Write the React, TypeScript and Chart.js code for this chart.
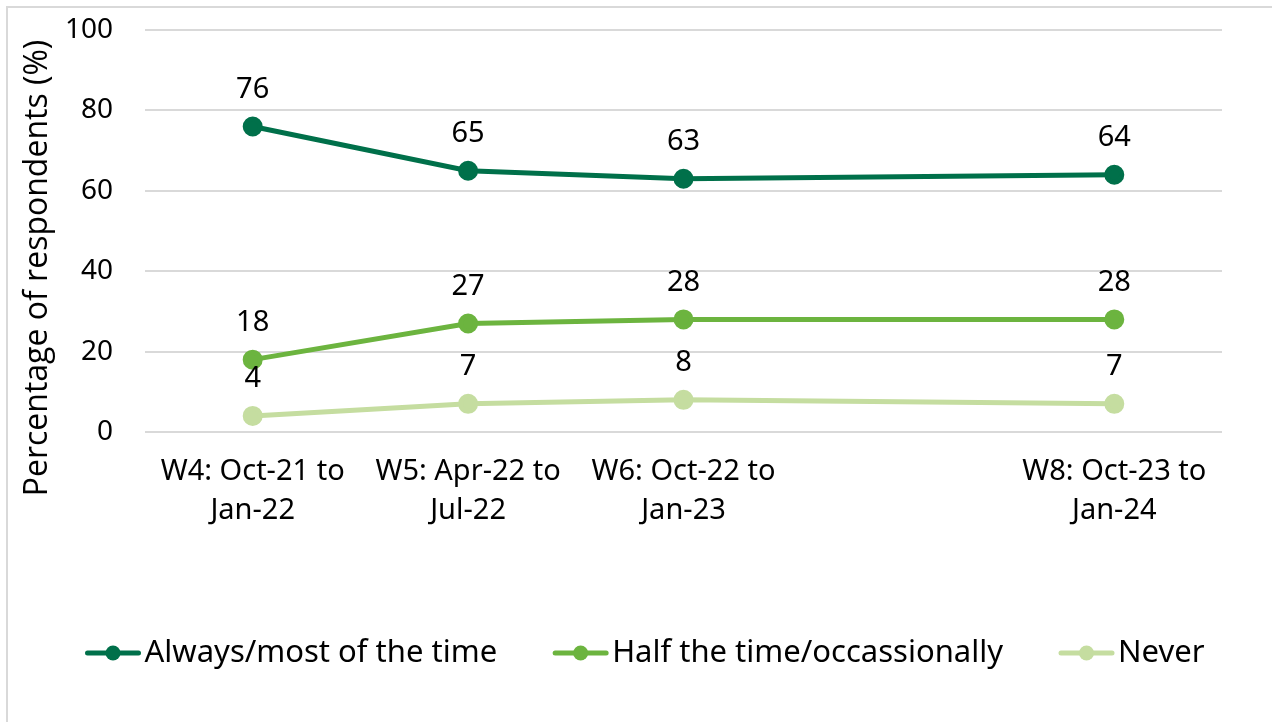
import React, { useEffect, useRef } from "react";
import { Chart, registerables } from "chart.js";

Chart.register(...registerables);

// Survey waves (W7 was not run, so its slot stays empty on the axis)
const waveLabels: string[][] = [
  ["W4: Oct-21 to", "Jan-22"],
  ["W5: Apr-22 to", "Jul-22"],
  ["W6: Oct-22 to", "Jan-23"],
  [""],
  ["W8: Oct-23 to", "Jan-24"],
];

const alwaysMost: (number | null)[] = [76, 65, 63, null, 64];
const halfOccasionally: (number | null)[] = [18, 27, 28, null, 28];
const never: (number | null)[] = [4, 7, 8, null, 7];

const seriesNames = ["Always/most of the time", "Half the time/occassionally", "Never"];
const seriesColors = ["#00704A", "#6CB43F", "#C5DDA0"];

const yTicks = [0, 20, 40, 60, 80, 100];
const yTitle = "Percentage of respondents (%)";

const FONT = "'Noto Sans', 'DejaVu Sans', sans-serif";
const TITLE_FONT = "'Open Sans', 'Noto Sans', sans-serif";

// Draws each point's value above it
const valueLabels = {
  id: "valueLabels",
  afterDatasetsDraw(chart: any) {
    const ctx = chart.ctx;
    ctx.save();
    ctx.font = `29px ${FONT}`;
    ctx.fillStyle = "#000";
    ctx.textAlign = "center";
    ctx.textBaseline = "middle";
    chart.data.datasets.forEach((ds: any, di: number) => {
      const meta = chart.getDatasetMeta(di);
      meta.data.forEach((pt: any, i: number) => {
        const v = ds.data[i];
        if (v === null || v === undefined) return;
        ctx.fillText(String(v), pt.x, pt.y - 37);
      });
    });
    ctx.restore();
  },
};

// Rotated y-axis title, set a little below the plot's mid-height
const axisTitle = {
  id: "axisTitle",
  afterDraw(chart: any) {
    const { ctx, chartArea } = chart;
    ctx.save();
    ctx.translate(38, (chartArea.top + chartArea.bottom) / 2 + 37);
    ctx.rotate(-Math.PI / 2);
    ctx.font = `32px ${TITLE_FONT}`;
    ctx.fillStyle = "#000";
    ctx.textAlign = "center";
    ctx.textBaseline = "middle";
    ctx.fillText(yTitle, 0, 0);
    ctx.restore();
  },
};

// Legend row along the bottom: line-and-dot marker followed by the series name
const bottomLegend = {
  id: "bottomLegend",
  afterDraw(chart: any) {
    const ctx = chart.ctx;
    const markerW = 55;
    const textGap = 4;
    const itemGap = 56;
    ctx.save();
    ctx.font = `31px ${FONT}`;
    const items = chart.data.datasets.map((ds: any) => ({
      text: ds.label as string,
      color: ds.borderColor as string,
      w: markerW + textGap + ctx.measureText(ds.label).width,
    }));
    const total = items.reduce((s: number, it: any) => s + it.w, 0) + itemGap * (items.length - 1);
    let x = chart.width / 2 + 9 - total / 2;
    const y = chart.chartArea.bottom + 221;
    items.forEach((it: any) => {
      ctx.strokeStyle = it.color;
      ctx.lineWidth = 5;
      ctx.lineCap = "round";
      ctx.beginPath();
      ctx.moveTo(x + 2, y);
      ctx.lineTo(x + markerW - 2, y);
      ctx.stroke();
      ctx.fillStyle = it.color;
      ctx.beginPath();
      ctx.arc(x + markerW / 2, y, 7.5, 0, Math.PI * 2);
      ctx.fill();
      ctx.fillStyle = "#000";
      ctx.textAlign = "left";
      ctx.textBaseline = "middle";
      ctx.fillText(it.text, x + markerW + textGap, y);
      x += it.w + itemGap;
    });
    ctx.restore();
  },
};

export default function App() {
  const canvasRef = useRef<HTMLCanvasElement | null>(null);

  useEffect(() => {
    const canvas = canvasRef.current;
    if (!canvas) return;
    const seriesData = [alwaysMost, halfOccasionally, never];
    const chart = new Chart(canvas, {
      type: "line",
      data: {
        labels: waveLabels,
        datasets: seriesData.map((d, i) => ({
          label: seriesNames[i],
          data: d,
          borderColor: seriesColors[i],
          backgroundColor: seriesColors[i],
          pointBackgroundColor: seriesColors[i],
          pointBorderColor: seriesColors[i],
          borderWidth: 5,
          pointRadius: 7.5,
          pointHoverRadius: 7.5,
          pointStyle: "circle",
          spanGaps: true,
          tension: 0,
        })),
      },
      options: {
        responsive: false,
        animation: false,
        events: [],
        layout: { padding: { left: 20, right: 50, top: 30, bottom: 150 } },
        scales: {
          x: {
            type: "category",
            offset: true,
            grid: { display: false, drawTicks: false },
            border: { display: false },
            ticks: {
              font: { family: FONT, size: 29, lineHeight: 1.32 },
              color: "#000",
              maxRotation: 0,
              autoSkip: false,
              padding: 21,
            },
            afterFit: (s: any) => {
              s.height = 140;
            },
          },
          y: {
            min: 0,
            max: 100,
            afterBuildTicks: (s: any) => {
              s.ticks = yTicks.map((v) => ({ value: v }));
            },
            grid: { color: "#D9D9D9", lineWidth: 2, drawTicks: false },
            border: { display: false },
            ticks: {
              font: { family: FONT, size: 28 },
              color: "#000",
              padding: 32,
            },
            afterFit: (s: any) => {
              s.width = 125;
              s.paddingTop = 0;
              s.paddingBottom = 0;
            },
          },
        },
        plugins: {
          tooltip: { enabled: false },
          legend: { display: false },
        },
      } as any,
      plugins: [valueLabels, axisTitle, bottomLegend],
    });
    return () => chart.destroy();
  }, []);

  return (
    <div style={{ position: "fixed", left: 0, top: 0, width: 1272, height: 722, overflow: "hidden", background: "#fff" }}>
      <div
        style={{
          position: "absolute",
          left: 6,
          top: 6,
          width: 1400,
          height: 900,
          border: "2px solid #D9D9D9",
        }}
      />
      <canvas ref={canvasRef} width={1272} height={722} style={{ position: "absolute", left: 0, top: 0 }} />
    </div>
  );
}
